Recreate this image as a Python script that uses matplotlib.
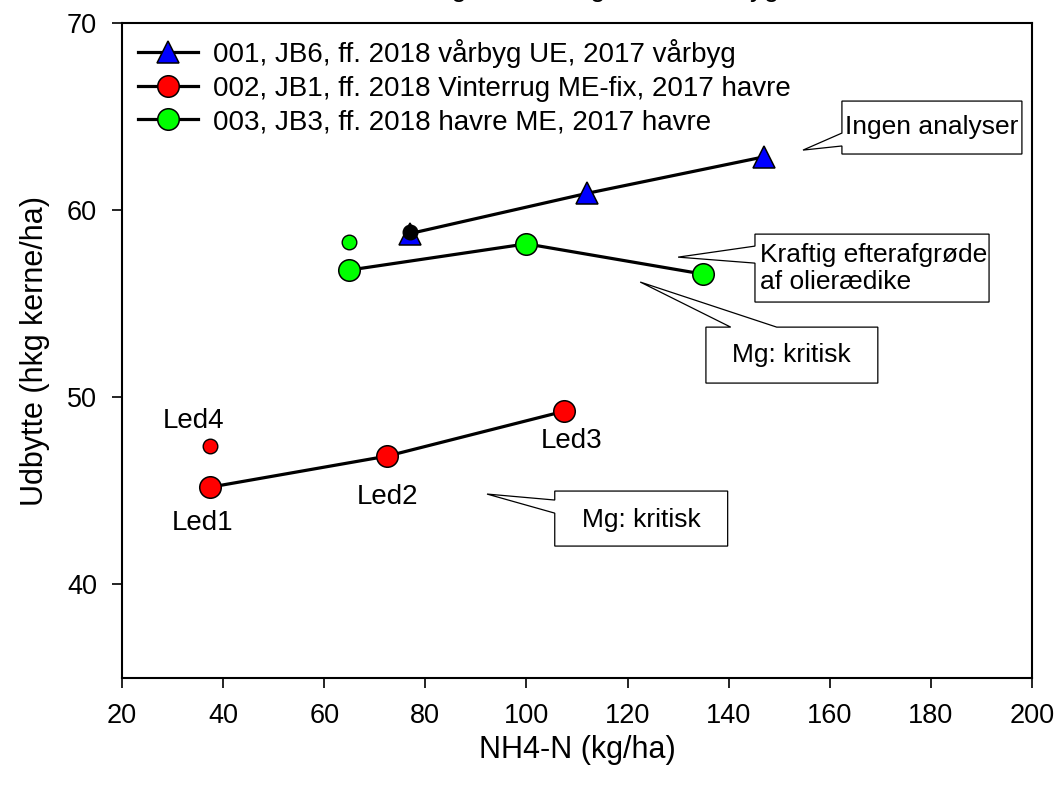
import matplotlib
matplotlib.use("Agg")
import matplotlib.pyplot as plt
from matplotlib.patches import Polygon

plt.rcParams['font.family'] = ['Liberation Sans', 'DejaVu Sans']

# trial 001 (spring barley)
x_001 = [77, 112, 147]
y_001 = [58.75, 60.9, 62.85]
x_001_led4 = [77]
y_001_led4 = [58.85]

# trial 002 (winter rye)
x_002 = [37.5, 72.5, 107.5]
y_002 = [45.2, 46.86, 49.26]
x_002_led4 = [37.5]
y_002_led4 = [47.4]
led_names = ["Led1", "Led2", "Led3"]

# trial 003 (oats)
x_003 = [65, 100, 135]
y_003 = [56.8, 58.2, 56.58]
x_003_led4 = [65]
y_003_led4 = [58.3]

labels = ["001, JB6, ff. 2018 vårbyg UE, 2017 vårbyg",
          "002, JB1, ff. 2018 Vinterrug ME-fix, 2017 havre",
          "003, JB3, ff. 2018 havre ME, 2017 havre"]

fig = plt.figure(figsize=(10.56, 7.86), dpi=100)
ax = fig.add_axes([0.1155, 0.1374, 0.8618, 0.8333])

big = dict(ms=15.5, mec='black', mew=1.1, lw=2.3, color='black')
small = dict(ms=10.5, mec='black', mew=1.0, ls='none')

ax.plot(x_001, y_001, marker='^', mfc='#0000FF', label=labels[0], zorder=3, **big)
ax.plot(x_002, y_002, marker='o', mfc='#FF0000', label=labels[1], zorder=3, **big)
ax.plot(x_003, y_003, marker='o', mfc='#00FF00', label=labels[2], zorder=3, **big)

ax.plot(x_001_led4, y_001_led4, marker='o', mfc='black', zorder=4, **small)
ax.plot(x_002_led4, y_002_led4, marker='o', mfc='#FF0000', zorder=4, **small)
ax.plot(x_003_led4, y_003_led4, marker='o', mfc='#00FF00', zorder=4, **small)

# Led labels for trial 002
ax.text(x_002[0] - 1.5, y_002[0] - 1.9, led_names[0], fontsize=20, ha='center', va='center')
ax.text(x_002[1], y_002[1] - 2.2, led_names[1], fontsize=20, ha='center', va='center')
ax.text(x_002[2] + 1.5, y_002[2] - 1.6, led_names[2], fontsize=20, ha='center', va='center')
ax.text(x_002_led4[0] - 3.3, y_002_led4[0] + 1.35, "Led4", fontsize=20, ha='center', va='center')


def callout(verts, zorder=5):
    ax.add_patch(Polygon(verts, closed=True, fc='white', ec='black', lw=0.9, zorder=zorder))


# Ingen analyser
callout([(162.4, 65.83), (198.0, 65.83), (198.0, 63.0), (162.4, 63.0),
         (162.4, 63.43), (154.7, 63.21), (162.4, 64.12)])
ax.text(163.0, 64.45, "Ingen analyser", fontsize=19, ha='left', va='center', zorder=6)

# Kraftig efterafgrøde
callout([(145.2, 58.72), (191.5, 58.72), (191.5, 55.09), (145.2, 55.09),
         (145.2, 57.17), (130.0, 57.49), (145.2, 58.08)])
ax.text(146.2, 56.9, "Kraftig efterafgrøde\naf olierædike", fontsize=19,
        ha='left', va='center', linespacing=1.15, zorder=6)

# Mg: kritisk (trial 003)
callout([(135.5, 53.75), (140.4, 53.75), (122.5, 56.16), (149.5, 53.75),
         (169.5, 53.75), (169.5, 50.76), (135.5, 50.76)])
ax.text(152.5, 52.25, "Mg: kritisk", fontsize=19, ha='center', va='center', zorder=6)

# Mg: kritisk (trial 002)
callout([(105.6, 44.99), (139.8, 44.99), (139.8, 42.05), (105.6, 42.05),
         (105.6, 43.81), (92.2, 44.83), (105.6, 44.51)])
ax.text(122.7, 43.45, "Mg: kritisk", fontsize=19, ha='center', va='center', zorder=6)

ax.set_xlim(20, 200)
ax.set_ylim(35, 70)
ax.set_xticks(range(20, 201, 20))
ax.set_yticks([40, 50, 60, 70])
ax.tick_params(direction='out', length=7, width=1.2, labelsize=19.5, pad=11,
               top=False, right=False)
for sp in ax.spines.values():
    sp.set_linewidth(1.5)

ax.set_xlabel("NH4-N (kg/ha)", fontsize=22, labelpad=4)
ax.set_ylabel("Udbytte (hkg kerne/ha)", fontsize=22, labelpad=12)

ax.legend(loc='upper left', frameon=False, fontsize=20, handlelength=2.15,
          handletextpad=0.55, labelspacing=0.27, borderaxespad=0.18)

# title sits above the top edge of the canvas
fig.text(0.359, 1.0055, "Forsøg, NH4-N og effekt, vårbyg, 2018", fontsize=20,
         ha='left', va='baseline')

fig.savefig("out.png", dpi=100)
